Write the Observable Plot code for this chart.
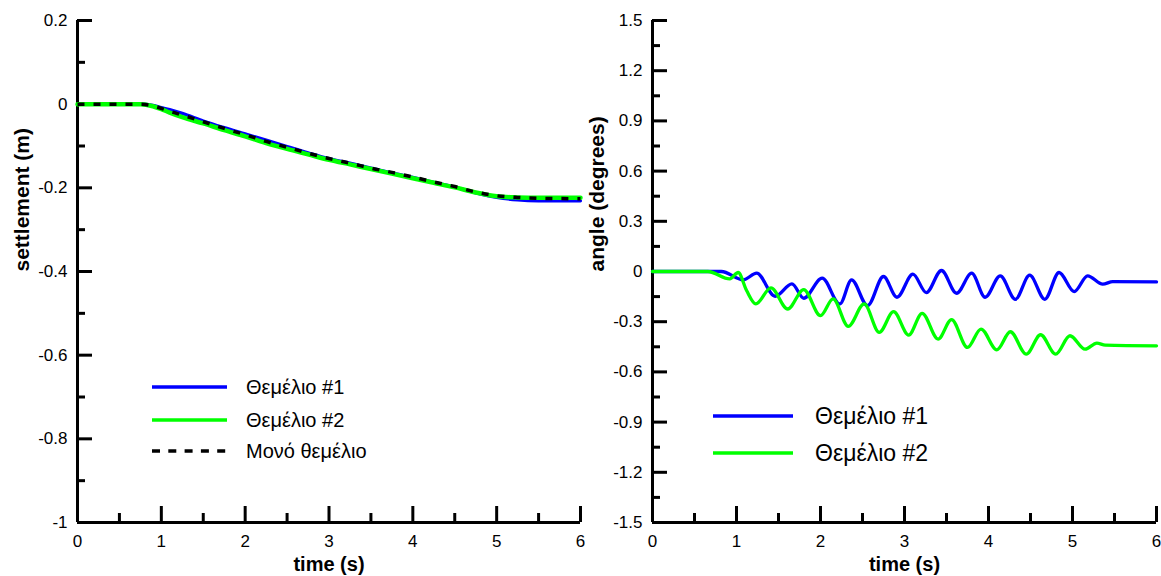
<!DOCTYPE html>
<html>
<head>
<meta charset="utf-8">
<script src="https://cdn.jsdelivr.net/npm/d3@7"></script>
<script src="https://cdn.jsdelivr.net/npm/@observablehq/plot@0.6"></script>
<style>
  html, body { margin: 0; padding: 0; background: #fff; }
  #wrap { position: relative; width: 1161px; height: 576px; display: flex; font-family: 'Liberation Sans', Arial, sans-serif; }
  #wrap svg { display: block; }
  .leg { position: absolute; display: flex; align-items: center; color: #000; white-space: nowrap; }
</style>
</head>
<body>
<div id="wrap">
  <div id="left"></div>
  <div id="right"></div>
</div>
<script>
// ---------- data ----------
const seriesNames = ["Θεμέλιο #1", "Θεμέλιο #2", "Μονό θεμέλιο"];

// settlement (m) vs time (s)
const settleTime   = [0, 0.5, 0.75, 0.9, 1.0, 1.1, 1.25, 1.5, 1.75, 2.0, 2.25, 2.5, 2.75, 3.0, 3.25, 3.5, 3.75, 4.0, 4.25, 4.5, 4.75, 5.0, 5.25, 5.5, 6.0];
const settleF1     = [0, 0, 0, -0.003, -0.008, -0.013, -0.022, -0.040, -0.056, -0.071, -0.086, -0.101, -0.116, -0.130, -0.141, -0.153, -0.164, -0.175, -0.187, -0.198, -0.212, -0.223, -0.229, -0.231, -0.231];
const settleF2     = [0, 0, 0, -0.005, -0.012, -0.020, -0.031, -0.046, -0.062, -0.077, -0.093, -0.107, -0.120, -0.133, -0.144, -0.155, -0.166, -0.177, -0.188, -0.199, -0.211, -0.220, -0.223, -0.224, -0.224];
const settleSingle = [0, 0, 0, -0.004, -0.010, -0.017, -0.026, -0.042, -0.058, -0.073, -0.089, -0.103, -0.117, -0.130, -0.141, -0.153, -0.163, -0.174, -0.186, -0.197, -0.210, -0.219, -0.223, -0.225, -0.226];

// angle (degrees) vs time (s)
const angleTime1 = [0, 0.64, 0.82, 1.08, 1.24, 1.46, 1.66, 1.80, 2.02, 2.23, 2.37, 2.56, 2.75, 2.91, 3.10, 3.26, 3.44, 3.62, 3.80, 3.96, 4.14, 4.32, 4.49, 4.67, 4.84, 5.02, 5.18, 5.36, 5.48, 6.0];
const angleF1    = [0, 0, 0, -0.05, -0.01, -0.148, -0.074, -0.16, -0.04, -0.194, -0.05, -0.204, -0.03, -0.154, -0.016, -0.126, 0.006, -0.13, -0.01, -0.154, -0.026, -0.166, -0.022, -0.166, -0.006, -0.12, -0.026, -0.076, -0.06, -0.062];
const angleTime2 = [0, 0.66, 0.92, 1.02, 1.12, 1.23, 1.41, 1.61, 1.80, 2.0, 2.15, 2.33, 2.52, 2.70, 2.87, 3.05, 3.21, 3.40, 3.56, 3.75, 3.91, 4.10, 4.26, 4.45, 4.62, 4.80, 4.97, 5.15, 5.29, 5.39, 6.0];
const angleF2    = [0, 0, -0.044, -0.006, -0.114, -0.194, -0.098, -0.224, -0.108, -0.264, -0.164, -0.328, -0.194, -0.364, -0.24, -0.38, -0.25, -0.404, -0.288, -0.454, -0.344, -0.468, -0.36, -0.494, -0.378, -0.494, -0.384, -0.464, -0.428, -0.44, -0.444];

// ticks
const xDomain = [0, 6];
const xTicks = [0, 1, 2, 3, 4, 5, 6];
const xMinor = [0.5, 1.5, 2.5, 3.5, 4.5, 5.5];
const settleDomain = [-1, 0.2];
const settleTicks = [0.2, 0, -0.2, -0.4, -0.6, -0.8, -1];
const settleMinor = [0.1, -0.1, -0.3, -0.5, -0.7, -0.9];
const angleDomain = [-1.5, 1.5];
const angleTicks = [1.5, 1.2, 0.9, 0.6, 0.3, 0, -0.3, -0.6, -0.9, -1.2, -1.5];
const angleMinor = [1.35, 1.05, 0.75, 0.45, 0.15, -0.15, -0.45, -0.75, -1.05, -1.35];

const BLUE = "#0000ff", GREEN = "#00ff00", BLACK = "#000000";

function zip(xs, ys) { return xs.map((x, i) => ({t: x, v: ys[i]})); }

function panel({width, marginLeft, yDomain, yTicks, yMinor, ylabel, labelDx, lines}) {
  const H = 576, mt = 20, mb = 54, mr = 5;
  const pw = width - marginLeft - mr;
  const ph = H - mt - mb;
  const font = "'Liberation Sans', Arial, sans-serif";
  return Plot.plot({
    width, height: H, marginLeft, marginRight: mr, marginTop: mt, marginBottom: mb,
    style: {fontFamily: font, background: "white", overflow: "visible", color: "black"},
    x: {domain: xDomain},
    y: {domain: yDomain},
    marks: [
      // inward ticks
      Plot.tickY(yTicks, {y: d => d, stroke: BLACK, strokeWidth: 3, insetRight: pw - 15}),
      Plot.tickY(yMinor, {y: d => d, stroke: BLACK, strokeWidth: 3, insetRight: pw - 8}),
      Plot.tickX(xTicks, {x: d => d, stroke: BLACK, strokeWidth: 3, insetTop: ph - 16}),
      Plot.tickX(xMinor, {x: d => d, stroke: BLACK, strokeWidth: 3, insetTop: ph - 9}),
      // axis lines
      Plot.ruleX([xDomain[0]], {stroke: BLACK, strokeWidth: 3}),
      Plot.ruleY([yDomain[0]], {stroke: BLACK, strokeWidth: 3}),
      // data
      ...lines,
      // tick labels
      Plot.axisX({ticks: xTicks, tickSize: 0, tickPadding: 12, tickFormat: d => String(d), fontSize: 17, label: null}),
      Plot.axisY({ticks: yTicks, tickSize: 0, tickPadding: 10, tickFormat: d => String(d), fontSize: 17, label: null}),
      // axis titles
      Plot.text([ylabel], {frameAnchor: "left", rotate: -90, dx: labelDx, fontSize: 21, fontWeight: "bold", fill: BLACK}),
      Plot.text(["time (s)"], {frameAnchor: "bottom", dy: 48, fontSize: 20, fontWeight: "bold", fill: BLACK})
    ]
  });
}

const lineOpts = (stroke, w) => ({x: "t", y: "v", stroke, strokeWidth: w, curve: "monotone-x"});

const left = panel({
  width: 585, marginLeft: 77,
  yDomain: settleDomain, yTicks: settleTicks, yMinor: settleMinor,
  ylabel: "settlement (m)", labelDx: -55,
  lines: [
    Plot.line(zip(settleTime, settleF1), lineOpts(BLUE, 3.2)),
    Plot.line(zip(settleTime, settleF2), lineOpts(GREEN, 4.5)),
    Plot.line(zip(settleTime, settleSingle), {...lineOpts(BLACK, 3.5), strokeDasharray: "7,9", strokeLinecap: "butt"})
  ]
});

const right = panel({
  width: 576, marginLeft: 67,
  yDomain: angleDomain, yTicks: angleTicks, yMinor: angleMinor,
  ylabel: "angle (degrees)", labelDx: -55,
  lines: [
    Plot.line(zip(angleTime1, angleF1), lineOpts(BLUE, 3.3)),
    Plot.line(zip(angleTime2, angleF2), lineOpts(GREEN, 3.3))
  ]
});

document.getElementById("left").append(left);
document.getElementById("right").append(right);

// ---------- legends ----------
function legendItem(name, color, dashed, x, y, lineLen, gap, fontSize) {
  const d = document.createElement("div");
  d.className = "leg";
  d.style.left = x + "px";
  d.style.top = (y - 15) + "px";
  d.style.height = "30px";
  d.style.fontSize = fontSize + "px";
  const dash = dashed ? `stroke-dasharray="8,8.3"` : "";
  d.innerHTML = `<svg width="${lineLen + gap}" height="30"><line x1="0" y1="15" x2="${lineLen}" y2="15" stroke="${color}" stroke-width="3.3" ${dash}/></svg><span>${name}</span>`;
  document.getElementById("wrap").append(d);
}
const colors = [BLUE, GREEN, BLACK];
[387, 420, 451].forEach((y, i) => legendItem(seriesNames[i], colors[i], i === 2, 152, y, 75, 19, 20));
[416, 453].forEach((y, i) => legendItem(seriesNames[i], colors[i], false, 713, y, 80, 22, 23));
</script>
</body>
</html>
